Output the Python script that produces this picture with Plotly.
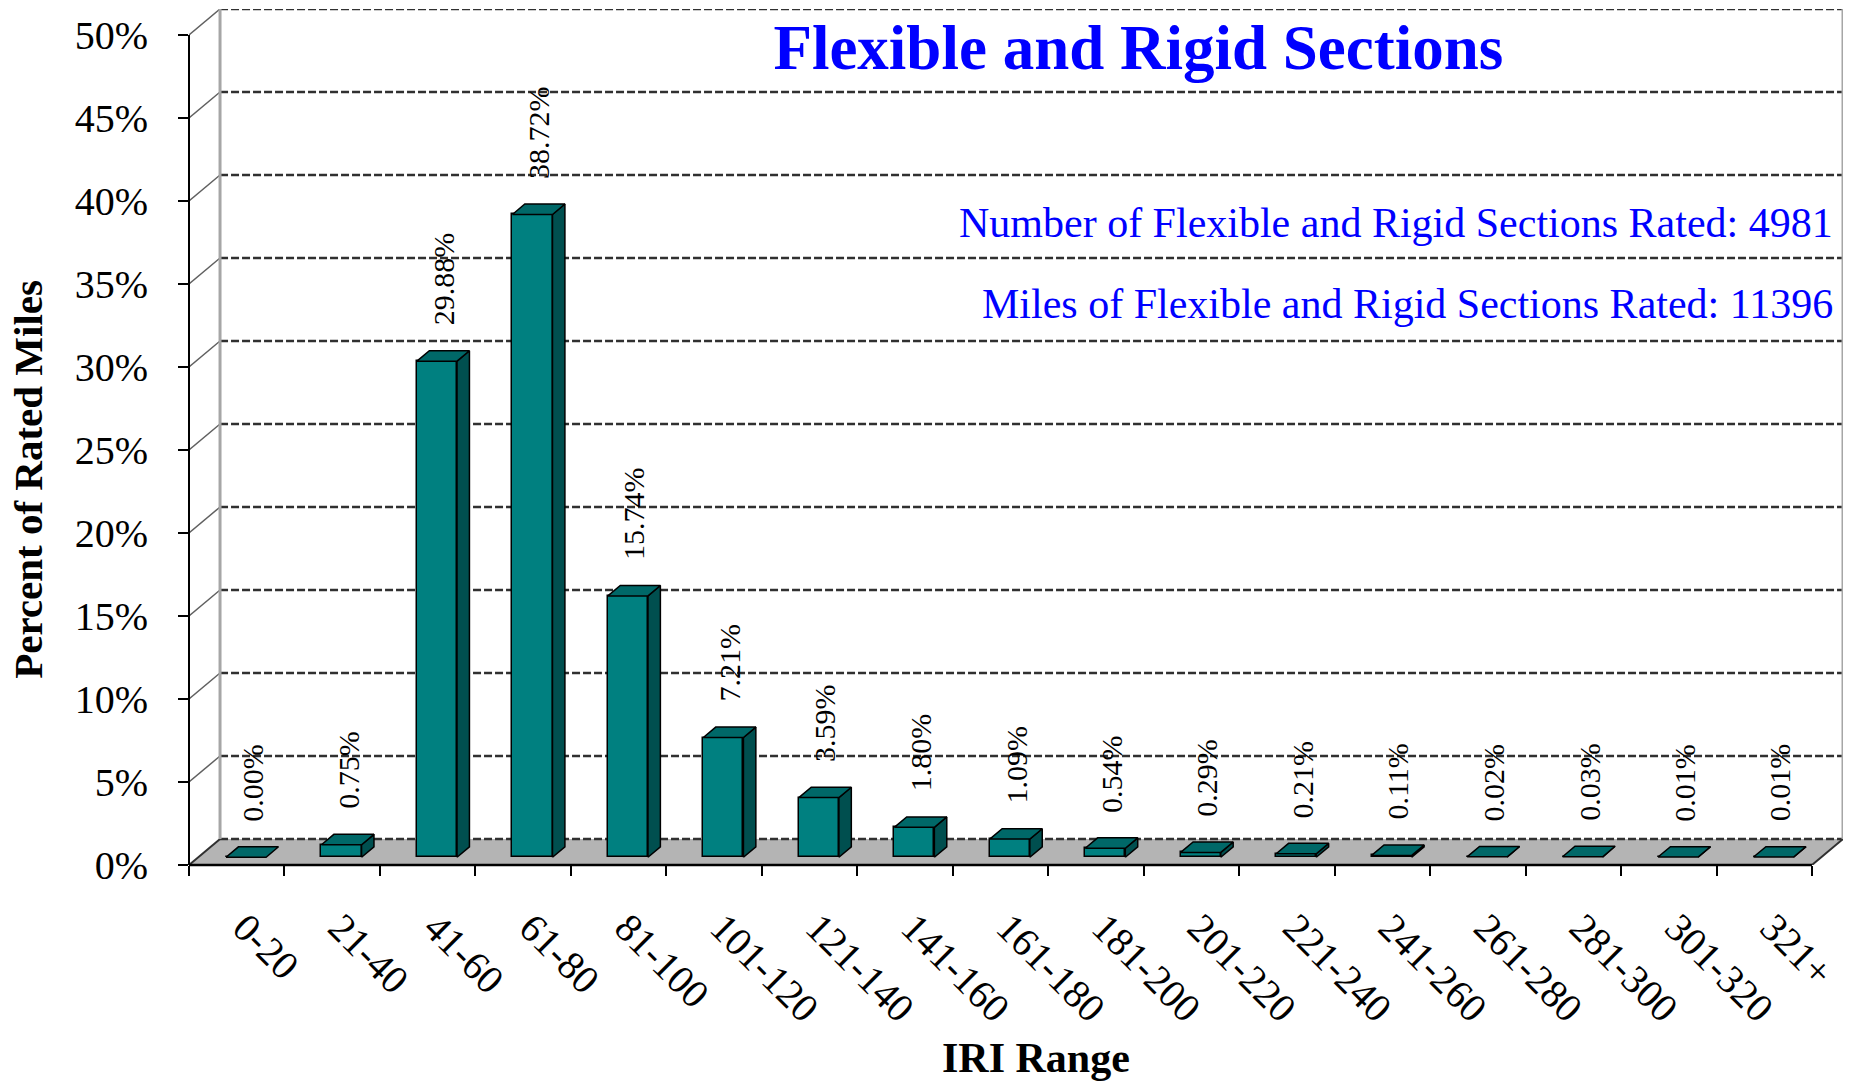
import plotly.graph_objects as go

# IRI distribution, flexible + rigid sections
iri_ranges = ["0-20", "21-40", "41-60", "61-80", "81-100", "101-120", "121-140",
              "141-160", "161-180", "181-200", "201-220", "221-240", "241-260",
              "261-280", "281-300", "301-320", "321+"]
pct_miles = [0.00, 0.75, 29.88, 38.72, 15.74, 7.21, 3.59, 1.80, 1.09, 0.54,
             0.29, 0.21, 0.11, 0.02, 0.03, 0.01, 0.01]
y_ticks = [0, 5, 10, 15, 20, 25, 30, 35, 40, 45, 50]
sections_rated = 4981
miles_rated = 11396

FONT = "Liberation Serif, Times New Roman, serif"
n = len(iri_ranges)

# fake 3D projection (in data units): depth offset of the back wall
DX, DY = 0.325, 1.566
BAR_W = 0.42
SX, SY = 0.3 * DX, 0.3 * DY      # bar front face offset from front plane
BDX, BDY = 0.4 * DX, 0.4 * DY    # bar depth

xl, xr = -0.5, n - 0.5

# walls / floor / grid go in as shapes under the traces
shapes = []
floor_path = (f"M {xl},0 L {xr},0 L {xr + DX},{DY} L {xl + DX},{DY} Z")
shapes.append(dict(type="path", path=floor_path, xref="x", yref="y", layer="below",
                   fillcolor="#b4b4b4", line=dict(width=0)))
for x0 in (xl, xr):
  shapes.append(dict(type="line", xref="x", yref="y", layer="below",
                     x0=x0, y0=0, x1=x0 + DX, y1=DY,
                     line=dict(color="#303030", width=2)))
for v in y_ticks[1:]:
  shapes.append(dict(type="line", xref="x", yref="y", layer="below",
                     x0=xl, y0=v, x1=xl + DX, y1=v + DY,
                     line=dict(color="#606060", width=1.5)))
for v in y_ticks:
  shapes.append(dict(type="line", xref="x", yref="y", layer="below",
                     x0=xl + DX, y0=v + DY, x1=xr + DX, y1=v + DY,
                     line=dict(color="#303030", width=2.5, dash="8px,3px")))
for x0 in (xl + DX, xr + DX):
  shapes.append(dict(type="line", xref="x", yref="y", layer="below",
                     x0=x0, y0=DY, x1=x0, y1=50 + DY,
                     line=dict(color="#a6a6a6", width=3)))
# axis lines
shapes.append(dict(type="line", xref="paper", yref="y", x0=0, x1=0, y0=0, y1=50,
                   line=dict(color="black", width=2)))
shapes.append(dict(type="line", xref="x", yref="paper", x0=xl, x1=xr, y0=0, y1=0,
                   line=dict(color="black", width=2.5)))

fig = go.Figure()

# bars: front face
fig.add_trace(go.Bar(x=[i + SX for i in range(n)], y=pct_miles, base=SY,
                     width=BAR_W, marker=dict(color="#008080",
                     line=dict(color="black", width=1.5)),
                     hoverinfo="skip", showlegend=False))

# bars: top and side faces
tx, ty, sx_, sy_ = [], [], [], []
for i, v in enumerate(pct_miles):
  x0, x1 = i + SX - BAR_W / 2, i + SX + BAR_W / 2
  y0, y1 = SY, SY + v
  tx += [x0, x1, x1 + BDX, x0 + BDX, x0, None]
  ty += [y1, y1, y1 + BDY, y1 + BDY, y1, None]
  if v > 0:
    sx_ += [x1, x1 + BDX, x1 + BDX, x1, x1, None]
    sy_ += [y0, y0 + BDY, y1 + BDY, y1, y0, None]
fig.add_trace(go.Scatter(x=sx_, y=sy_, mode="lines", fill="toself",
                         fillcolor="#004f4f", line=dict(color="black", width=1.5),
                         hoverinfo="skip", showlegend=False))
fig.add_trace(go.Scatter(x=tx, y=ty, mode="lines", fill="toself",
                         fillcolor="#006868", line=dict(color="black", width=1.5),
                         hoverinfo="skip", showlegend=False))

# dummy trace so the tick-mark axis gets drawn
fig.add_trace(go.Scatter(x=[xl], y=[0], xaxis="x2", mode="markers",
                         marker=dict(opacity=0), hoverinfo="skip", showlegend=False))

annotations = []
for i, v in enumerate(pct_miles):
  annotations.append(dict(
    x=i + SX + BDX / 2, y=SY + v + BDY + 1.4, xref="x", yref="y",
    text=f"{v:.2f}%", textangle=-90, showarrow=False,
    xanchor="center", yanchor="bottom",
    font=dict(family=FONT, size=30, color="black")))

annotations += [
  dict(x=0.995, y=0.75, xref="paper", yref="paper", xanchor="right", yanchor="middle",
       text=f"Number of Flexible and Rigid Sections Rated: {sections_rated}",
       showarrow=False, font=dict(family=FONT, size=42, color="#0000ff")),
  dict(x=0.995, y=0.655, xref="paper", yref="paper", xanchor="right", yanchor="middle",
       text=f"Miles of Flexible and Rigid Sections Rated: {miles_rated}",
       showarrow=False, font=dict(family=FONT, size=42, color="#0000ff")),
  dict(x=-0.0973, y=0.45, xref="paper", yref="paper", textangle=-90,
       text="<b>Percent of Rated Miles</b>", showarrow=False,
       xanchor="center", yanchor="middle",
       font=dict(family=FONT, size=41, color="black")),
  dict(x=0.512, y=-0.2255, xref="paper", yref="paper",
       text="<b>IRI Range</b>", showarrow=False,
       xanchor="center", yanchor="middle",
       font=dict(family=FONT, size=42, color="black")),
]

fig.update_layout(
  template="none",
  width=1857, height=1082,
  margin=dict(l=189, r=14, t=9, b=217, autoexpand=False),
  paper_bgcolor="white", plot_bgcolor="white",
  font=dict(family=FONT, color="black"),
  bargap=0,
  title=dict(text="<b>Flexible and Rigid Sections</b>", x=0.613, y=0.957,
             xanchor="center", yanchor="middle",
             font=dict(family=FONT, size=63, color="#0000ff")),
  xaxis=dict(range=[xl, xr + DX], tickvals=list(range(n)), ticktext=iri_ranges,
             tickangle=45, ticks="", showgrid=False, zeroline=False, showline=False,
             ticklabelstandoff=30, ticklabelshift=8, automargin=False,
             tickfont=dict(family=FONT, size=40, color="black")),
  xaxis2=dict(range=[xl, xr + DX], overlaying="x", anchor="y", side="bottom",
              tickvals=[i - 0.5 for i in range(n + 1)], ticks="outside",
              ticklen=10, tickwidth=2, tickcolor="black", showticklabels=False,
              showgrid=False, zeroline=False, showline=False, automargin=False),
  yaxis=dict(range=[0, 50 + DY], tickvals=y_ticks,
             ticktext=[f"{v}%" for v in y_ticks], ticks="outside", ticklen=10,
             tickwidth=2, tickcolor="black", showgrid=False, zeroline=False,
             showline=False, ticklabelstandoff=22, automargin=False,
             tickfont=dict(family=FONT, size=40, color="black")),
  annotations=annotations,
  shapes=shapes,
)

# drop the default 8px body margin so the figure sits at the page origin
fig.write_html("out.html", config={"displayModeBar": False},
               post_script="document.body.style.margin='0';")
